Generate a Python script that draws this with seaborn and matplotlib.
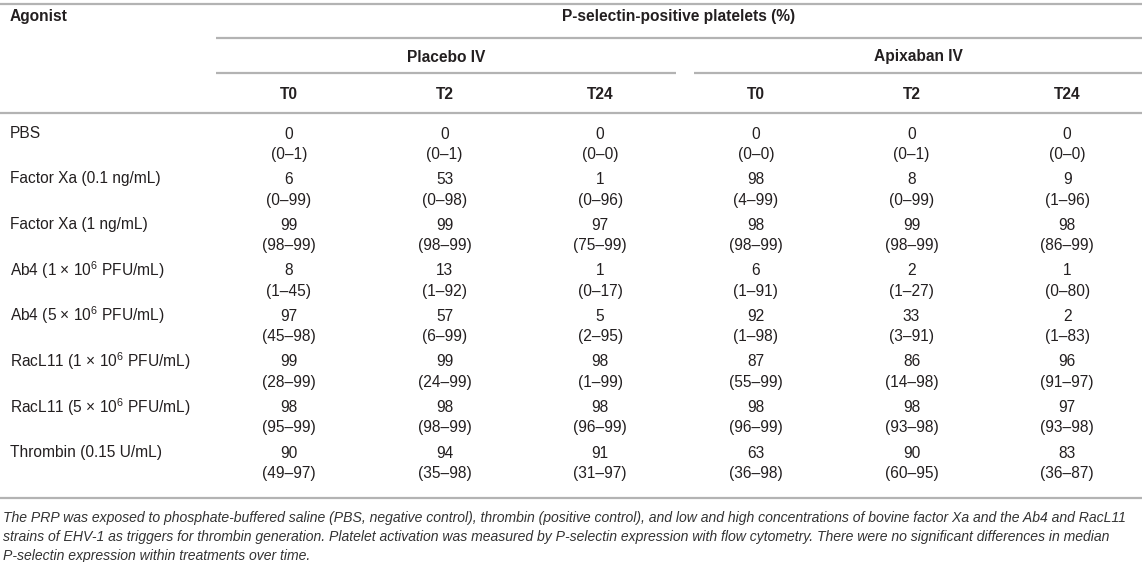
import numpy as np
import pandas as pd
import matplotlib
matplotlib.use("Agg")
import matplotlib.pyplot as plt
from matplotlib.colors import ListedColormap
from matplotlib.lines import Line2D
from matplotlib.transforms import ScaledTranslation
import seaborn as sns

# ---------------- data ----------------
agonists = ["PBS", "Factor Xa (0.1 ng/mL)", "Factor Xa (1 ng/mL)",
            "Ab4 (1 × 10$^6$ PFU/mL)", "Ab4 (5 × 10$^6$ PFU/mL)",
            "RacL11 (1 × 10$^6$ PFU/mL)", "RacL11 (5 × 10$^6$ PFU/mL)",
            "Thrombin (0.15 U/mL)"]
groups = ["Placebo IV", "Apixaban IV"]
timepoints = ["T0", "T2", "T24"]

placebo_t0 = [0, 6, 99, 8, 97, 99, 98, 90]
placebo_t0_rng = ["0–1", "0–99", "98–99", "1–45", "45–98", "28–99", "95–99", "49–97"]
placebo_t2 = [0, 53, 99, 13, 57, 99, 98, 94]
placebo_t2_rng = ["0–1", "0–98", "98–99", "1–92", "6–99", "24–99", "98–99", "35–98"]
placebo_t24 = [0, 1, 97, 1, 5, 98, 98, 91]
placebo_t24_rng = ["0–0", "0–96", "75–99", "0–17", "2–95", "1–99", "96–99", "31–97"]
apix_t0 = [0, 98, 98, 6, 92, 87, 98, 63]
apix_t0_rng = ["0–0", "4–99", "98–99", "1–91", "1–98", "55–99", "96–99", "36–98"]
apix_t2 = [0, 8, 99, 2, 33, 86, 98, 90]
apix_t2_rng = ["0–1", "0–99", "98–99", "1–27", "3–91", "14–98", "93–98", "60–95"]
apix_t24 = [0, 9, 98, 1, 2, 96, 97, 83]
apix_t24_rng = ["0–0", "1–96", "86–99", "0–80", "1–83", "91–97", "93–98", "36–87"]

header_title = "P-selectin-positive platelets (%)"
first_col = "Agonist"
caption_lines = [
    "The PRP was exposed to phosphate-buffered saline (PBS, negative control), thrombin (positive control), and low and high concentrations of bovine factor Xa and the Ab4 and RacL11",
    "strains of EHV-1 as triggers for thrombin generation. Platelet activation was measured by P-selectin expression with flow cytometry. There were no significant differences in median",
    "P-selectin expression within treatments over time.",
]

# ---------------- build table ----------------
medians = [placebo_t0, placebo_t2, placebo_t24, apix_t0, apix_t2, apix_t24]
ranges = [placebo_t0_rng, placebo_t2_rng, placebo_t24_rng, apix_t0_rng, apix_t2_rng, apix_t24_rng]
col_labels = timepoints * 2
values = pd.DataFrame(np.array(medians).T, index=agonists,
                      columns=[f"{g} {t}" for g in groups for t in timepoints])
annot = np.array([[f"{m}\n({r})" for m, r in zip(mc, rc)]
                  for mc, rc in zip(medians, ranges)]).T

sns.set_theme(style="white")
plt.rcParams["font.family"] = ["Liberation Sans", "DejaVu Sans"]
plt.rcParams["mathtext.default"] = "regular"

W, H = 1145, 562
FS = 11.2
fig = plt.figure(figsize=(W / 100, H / 100), dpi=100)
fig.patch.set_facecolor("white")

def fx(px):
    return px / W

def fy(py):
    return 1 - py / H

# heatmap area (pixels)
left_px, right_px = 211, 1145
top_px, bot_px = 121.5, 486.0
ax = fig.add_axes([fx(left_px), fy(bot_px), fx(right_px - left_px), (bot_px - top_px) / H])

TXT = "#231f20"
sns.heatmap(values, ax=ax, cmap=ListedColormap(["white"]), cbar=False,
            annot=annot, fmt="", annot_kws={"fontsize": FS, "color": TXT, "linespacing": 1.45},
            xticklabels=col_labels, yticklabels=agonists, linewidths=0)

# x tick labels (time points) on top, bold
ax.xaxis.tick_top()
ax.tick_params(axis="x", length=0, pad=14, labelsize=FS, labelcolor=TXT)
for lbl in ax.get_xticklabels():
    lbl.set_fontweight("bold")
    lbl.set_rotation(0)

# y tick labels (agonists) left aligned at x=10px
pad_pt = (left_px - 10) * 72 / 100
ax.tick_params(axis="y", length=0, pad=pad_pt, labelsize=FS, labelcolor=TXT)
for lbl in ax.get_yticklabels():
    lbl.set_ha("left")
    lbl.set_rotation(0)
    lbl.set_va("center")
    lbl.set_transform(lbl.get_transform() + ScaledTranslation(0, 11 / 100, fig.dpi_scale_trans))
for s in ax.spines.values():
    s.set_visible(False)

# headers
fig.text(fx(10), fy(17), first_col, fontsize=FS, fontweight="bold", color=TXT, va="center", ha="left")
fig.text(fx((216 + 1142) / 2), fy(17), header_title, fontsize=FS, fontweight="bold",
         color=TXT, va="center", ha="center")
fig.text(fx((216 + 676) / 2), fy(57), groups[0], fontsize=FS, fontweight="bold",
         color=TXT, va="center", ha="center")
fig.text(fx((694 + 1142) / 2), fy(57), groups[1], fontsize=FS, fontweight="bold",
         color=TXT, va="center", ha="center")

# rules
LC = "#b3b3b3"
def hline(x0, x1, y, lw=1.6):
    fig.add_artist(Line2D([fx(x0), fx(x1)], [fy(y), fy(y)], transform=fig.transFigure,
                          color=LC, lw=lw, solid_capstyle="butt"))

hline(0, 1142, 4)
hline(216, 1142, 38)
hline(216, 676, 73)
hline(694, 1142, 73)
hline(0, 1142, 113)
hline(0, 1142, 498)

# caption
for i, line in enumerate(caption_lines):
    fig.text(fx(3), fy(518 + i * 19), line, fontsize=10.12, style="italic",
             color="#333333", va="center", ha="left")

fig.savefig("out.png", dpi=100, facecolor="white")
